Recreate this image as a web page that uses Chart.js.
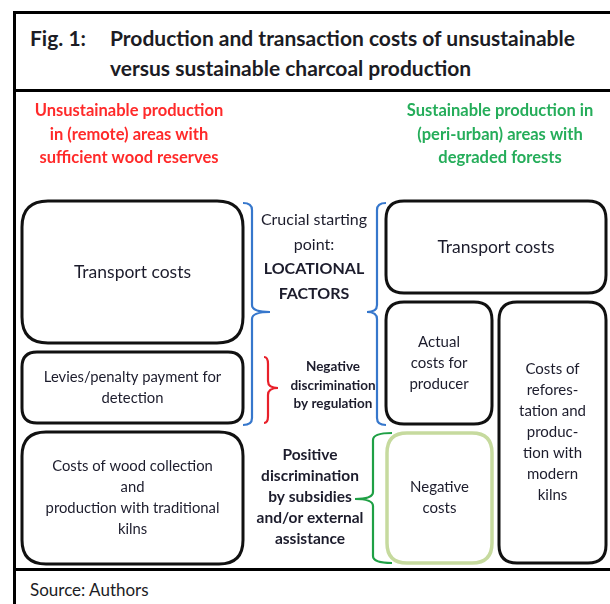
<!DOCTYPE html>
<html>
<head>
<meta charset="utf-8">
<script src="https://cdn.jsdelivr.net/npm/chart.js@4/dist/chart.umd.min.js"></script>
<style>
  html, body { margin: 0; padding: 0; background: #fff; }
  #wrap { position: relative; width: 610px; height: 604px; overflow: hidden; font-family: Lato, "Noto Sans", sans-serif; color: #1c1c24; }
  .frame { position: absolute; left: 13px; top: 11px; width: 700px; height: 700px; border-left: 3px solid #000; border-top: 3px solid #000; }
  .rule { position: absolute; left: 13px; width: 700px; height: 3px; background: #000; }
  #title { position: absolute; left: 30px; top: 23px; width: 580px; font-size: 21px; line-height: 30px; font-weight: 700; white-space: nowrap; }
  #title .num { position: absolute; left: 0; top: 0; }
  #title .txt { position: absolute; left: 80px; top: 0; }
  #source { position: absolute; left: 30px; top: 579px; font-size: 17px; line-height: 22px; }
  #diagram { position: absolute; left: 0; top: 0; }
</style>
</head>
<body>
<div id="wrap">
  <div class="frame"></div>
  <div class="rule" style="top:89px"></div>
  <div class="rule" style="top:568px"></div>
  <div id="title"><span class="num">Fig. 1:</span><span class="txt">Production and transaction costs of unsustainable<br>versus sustainable charcoal production</span></div>
  <div id="source">Source: Authors</div>
  <canvas id="diagram" width="610" height="604"></canvas>
</div>
<script>
// cost boxes (diagram units = page pixels)
const boxLabels = [
  ["Transport costs"],
  ["Levies/penalty payment for", "detection"],
  ["Costs of wood collection", "and", "production with traditional", "kilns"],
  ["Transport costs"],
  ["Actual", "costs for", "producer"],
  ["Costs of", "refores-", "tation and", "produc-", "tion with", "modern", "kilns"],
  ["Negative", "costs"]
];
const boxLeft   = [22, 22, 22, 386, 386, 499, 387];
const boxRight  = [243, 243, 243, 606, 492, 606, 492];
const boxTop    = [201, 352, 432, 201, 302, 302, 433];
const boxBottom = [343, 423, 564, 293, 424, 563, 563];

// braces: end x, spine x, tip x, top, bottom, tip y
const braceEnd   = [243, 386, 264, 392];
const braceSpine = [252, 377, 268, 373];
const braceTip   = [270, 367, 278, 355];
const braceTop   = [203, 203, 357, 433];
const braceBot   = [425, 425, 423, 563];
const braceMid   = [312, 312, 388, 499];

// free labels
const headLabels = [
  ["Unsustainable production", "in (remote) areas with", "sufficient wood reserves"],
  ["Sustainable production in", "(peri-urban) areas with", "degraded forests"]
];
const headX = [129, 500];
const headY = [111, 111];

const noteLabels = [
  ["Crucial starting", "point:", "LOCATIONAL", "FACTORS"],
  ["Negative", "discrimination", "by regulation"],
  ["Positive", "discrimination", "by subsidies", "and/or external", "assistance"]
];
const noteX = [314, 333, 310];
const noteY = [220, 367, 455];

const FONT = 'Lato, "Noto Sans", sans-serif';
const boxFont = ['17.5px', '14.8px', '14.8px', '17.5px', '15px', '15px', '15px'];
const boxColor = ['#111', '#111', '#111', '#111', '#111', '#111', '#c6da9e'];
const boxRadius = [26, 15, 24, 18, 18, 18, 20];
const braceColor = ['#3677cc', '#3677cc', '#e8202a', '#1fa045'];
const headColor = ['#ff2a2a', '#25ad5a'];

function roundRect(ctx, x0, y0, x1, y1, r) {
  ctx.beginPath();
  ctx.moveTo(x0 + r, y0);
  ctx.lineTo(x1 - r, y0);
  ctx.quadraticCurveTo(x1, y0, x1, y0 + r);
  ctx.lineTo(x1, y1 - r);
  ctx.quadraticCurveTo(x1, y1, x1 - r, y1);
  ctx.lineTo(x0 + r, y1);
  ctx.quadraticCurveTo(x0, y1, x0, y1 - r);
  ctx.lineTo(x0, y0 + r);
  ctx.quadraticCurveTo(x0, y0, x0 + r, y0);
  ctx.closePath();
}

function drawLines(ctx, lines, cx, cy, lh, fontFor) {
  const start = cy - (lines.length - 1) * lh / 2;
  lines.forEach((t, i) => {
    ctx.font = fontFor(t, i);
    ctx.fillText(t, cx, start + i * lh);
  });
}

const diagramPlugin = {
  id: 'diagram',
  afterDraw(chart) {
    const ctx = chart.ctx;
    const sx = chart.scales.x, sy = chart.scales.y;
    const px = v => sx.getPixelForValue(v);
    const py = v => sy.getPixelForValue(v);
    ctx.save();
    ctx.textAlign = 'center';
    ctx.textBaseline = 'middle';

    // boxes
    boxLabels.forEach((lines, i) => {
      const x0 = px(boxLeft[i]), x1 = px(boxRight[i]);
      const y0 = py(boxTop[i]), y1 = py(boxBottom[i]);
      roundRect(ctx, x0, y0, x1, y1, boxRadius[i]);
      ctx.lineWidth = i === 6 ? 3.5 : 3;
      ctx.strokeStyle = boxColor[i];
      ctx.stroke();
      ctx.fillStyle = '#1c1c2c';
      drawLines(ctx, lines, (x0 + x1) / 2, (y0 + y1) / 2, 21, () => boxFont[i] + ' ' + FONT);
    });

    // braces
    braceEnd.forEach((xe, i) => {
      const e = px(xe), s = px(braceSpine[i]), t = px(braceTip[i]);
      const y0 = py(braceTop[i]), y1 = py(braceBot[i]), ym = py(braceMid[i]);
      const r = 7;
      ctx.beginPath();
      ctx.moveTo(e, y0);
      ctx.quadraticCurveTo(s, y0, s, y0 + r);
      ctx.lineTo(s, ym - r);
      ctx.quadraticCurveTo(s, ym, t, ym);
      ctx.quadraticCurveTo(s, ym, s, ym + r);
      ctx.lineTo(s, y1 - r);
      ctx.quadraticCurveTo(s, y1, e, y1);
      ctx.lineWidth = 2.2;
      ctx.strokeStyle = braceColor[i];
      ctx.stroke();
    });

    // column headings
    headLabels.forEach((lines, i) => {
      ctx.fillStyle = headColor[i];
      const lh = 23.5;
      drawLines(ctx, lines, px(headX[i]), py(headY[i]) + (lines.length - 1) * lh / 2, lh, () => 'bold 16.5px ' + FONT);
    });

    // notes between the columns
    ctx.fillStyle = '#1c1c2c';
    const noteLh = [24.5, 18.5, 21];
    noteLabels.forEach((lines, i) => {
      const lh = noteLh[i];
      drawLines(ctx, lines, px(noteX[i]), py(noteY[i]) + (lines.length - 1) * lh / 2, lh, (t, k) => {
        if (i === 0) return (k < 2 ? '16px ' : 'bold 16px ') + FONT;
        if (i === 1) return 'bold 13.5px ' + FONT;
        return 'bold 15.5px ' + FONT;
      });
    });
    ctx.restore();
  }
};

new Chart(document.getElementById('diagram'), {
  type: 'scatter',
  data: { datasets: [{ data: [] }] },
  options: {
    responsive: false,
    animation: false,
    layout: { padding: 0 },
    plugins: { legend: { display: false }, tooltip: { enabled: false } },
    scales: {
      x: { type: 'linear', min: 0, max: 610, display: false },
      y: { type: 'linear', min: 0, max: 604, reverse: true, display: false }
    }
  },
  plugins: [diagramPlugin]
});
</script>
</body>
</html>
